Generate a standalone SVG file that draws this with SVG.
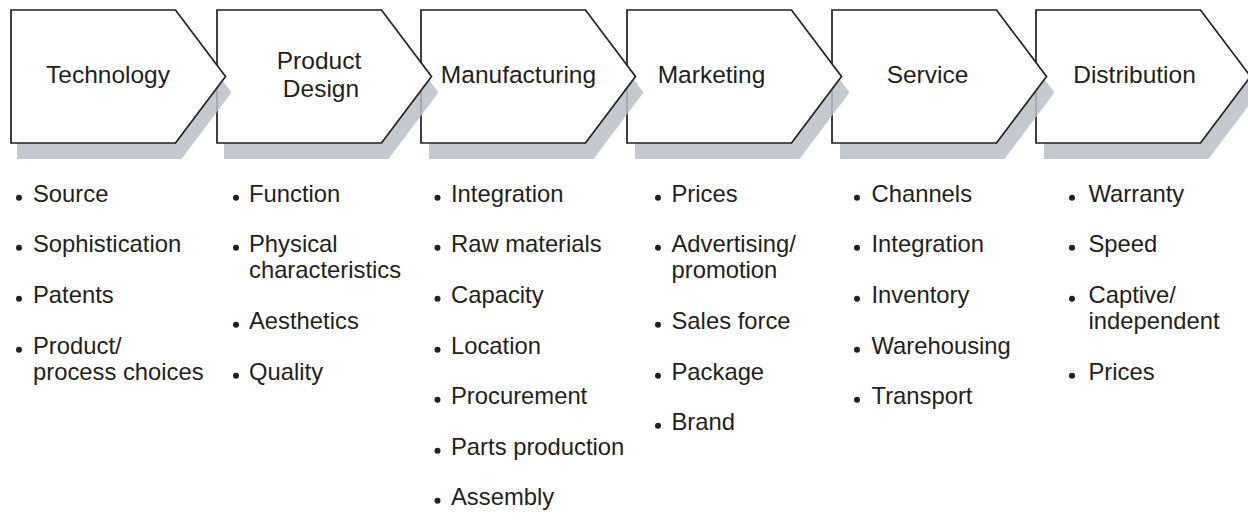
<svg xmlns="http://www.w3.org/2000/svg" width="1248" height="527" viewBox="0 0 1248 527">
<style>
.chev{fill:#ffffff;stroke:#231f20;stroke-width:1.7;stroke-linejoin:miter}
.shadow{fill:#b9c0c5;opacity:0.85}
.lbl{font-family:"Liberation Sans",Arial,Helvetica,sans-serif;font-size:24.5px;fill:#231f20;text-anchor:middle}
.item{font-family:"Liberation Sans",Arial,Helvetica,sans-serif;font-size:23.8px;fill:#231f20}
.dot{fill:#231f20}
</style>
<defs>
<polygon id="chevShape" points="0,10 164.5,10 214.5,76.5 164.5,143 0,143"/>
</defs>
<rect width="1248" height="527" fill="#ffffff"/>

<g id="node-distribution">
<use href="#chevShape" class="shadow" transform="translate(1044,16)"/>
<use href="#chevShape" class="chev" transform="translate(1036,0)"/>
<text class="lbl" x="1134.5" y="83">Distribution</text>
</g>

<g id="node-service">
<use href="#chevShape" class="shadow" transform="translate(840,16)"/>
<use href="#chevShape" class="chev" transform="translate(832,0)"/>
<text class="lbl" x="927.5" y="83">Service</text>
</g>

<g id="node-marketing">
<use href="#chevShape" class="shadow" transform="translate(635,16)"/>
<use href="#chevShape" class="chev" transform="translate(627,0)"/>
<text class="lbl" x="711.5" y="83">Marketing</text>
</g>

<g id="node-manufacturing">
<use href="#chevShape" class="shadow" transform="translate(429,16)"/>
<use href="#chevShape" class="chev" transform="translate(421,0)"/>
<text class="lbl" x="518.5" y="83">Manufacturing</text>
</g>

<g id="node-product-design">
<use href="#chevShape" class="shadow" transform="translate(224,16)"/>
<use href="#chevShape" class="chev" transform="translate(217,0)"/>
<text class="lbl" x="319" y="69">Product</text>
<text class="lbl" x="321" y="97">Design</text>
</g>

<g id="node-technology">
<use href="#chevShape" class="shadow" transform="translate(17,16)"/>
<use href="#chevShape" class="chev" transform="translate(11,0)"/>
<text class="lbl" x="108" y="83">Technology</text>
</g>

<g id="list-technology">
<circle class="dot" cx="19" cy="197.8" r="3"/><text class="item" x="33" y="202">Source</text>
<circle class="dot" cx="19" cy="247.8" r="3"/><text class="item" x="33" y="252">Sophistication</text>
<circle class="dot" cx="19" cy="298.8" r="3"/><text class="item" x="33" y="303">Patents</text>
<circle class="dot" cx="19" cy="349.8" r="3"/><text class="item" x="33" y="354">Product/</text>
<text class="item" x="33" y="380">process choices</text>
</g>

<g id="list-product-design">
<circle class="dot" cx="236" cy="197.8" r="3"/><text class="item" x="249" y="202">Function</text>
<circle class="dot" cx="236" cy="247.8" r="3"/><text class="item" x="249" y="252">Physical</text>
<text class="item" x="249" y="278">characteristics</text>
<circle class="dot" cx="236" cy="324.8" r="3"/><text class="item" x="249" y="329">Aesthetics</text>
<circle class="dot" cx="236" cy="375.8" r="3"/><text class="item" x="249" y="380">Quality</text>
</g>

<g id="list-manufacturing">
<circle class="dot" cx="437.5" cy="197.8" r="3"/><text class="item" x="451" y="202">Integration</text>
<circle class="dot" cx="437.5" cy="247.8" r="3"/><text class="item" x="451" y="252">Raw materials</text>
<circle class="dot" cx="437.5" cy="298.8" r="3"/><text class="item" x="451" y="303">Capacity</text>
<circle class="dot" cx="437.5" cy="349.8" r="3"/><text class="item" x="451" y="354">Location</text>
<circle class="dot" cx="437.5" cy="399.8" r="3"/><text class="item" x="451" y="404">Procurement</text>
<circle class="dot" cx="437.5" cy="450.8" r="3"/><text class="item" x="451" y="455">Parts production</text>
<circle class="dot" cx="437.5" cy="500.8" r="3"/><text class="item" x="451" y="505">Assembly</text>
</g>

<g id="list-marketing">
<circle class="dot" cx="658" cy="197.8" r="3"/><text class="item" x="671.5" y="202">Prices</text>
<circle class="dot" cx="658" cy="247.8" r="3"/><text class="item" x="671.5" y="252">Advertising/</text>
<text class="item" x="671.5" y="278">promotion</text>
<circle class="dot" cx="658" cy="324.8" r="3"/><text class="item" x="671.5" y="329">Sales force</text>
<circle class="dot" cx="658" cy="375.8" r="3"/><text class="item" x="671.5" y="380">Package</text>
<circle class="dot" cx="658" cy="425.8" r="3"/><text class="item" x="671.5" y="430">Brand</text>
</g>

<g id="list-service">
<circle class="dot" cx="857" cy="197.8" r="3"/><text class="item" x="871.5" y="202">Channels</text>
<circle class="dot" cx="857" cy="247.8" r="3"/><text class="item" x="871.5" y="252">Integration</text>
<circle class="dot" cx="857" cy="298.8" r="3"/><text class="item" x="871.5" y="303">Inventory</text>
<circle class="dot" cx="857" cy="349.8" r="3"/><text class="item" x="871.5" y="354">Warehousing</text>
<circle class="dot" cx="857" cy="399.8" r="3"/><text class="item" x="871.5" y="404">Transport</text>
</g>

<g id="list-distribution">
<circle class="dot" cx="1072" cy="197.8" r="3"/><text class="item" x="1088.5" y="202">Warranty</text>
<circle class="dot" cx="1072" cy="247.8" r="3"/><text class="item" x="1088.5" y="252">Speed</text>
<circle class="dot" cx="1072" cy="298.8" r="3"/><text class="item" x="1088.5" y="303">Captive/</text>
<text class="item" x="1088.5" y="329">independent</text>
<circle class="dot" cx="1072" cy="375.8" r="3"/><text class="item" x="1088.5" y="380">Prices</text>
</g>
</svg>
